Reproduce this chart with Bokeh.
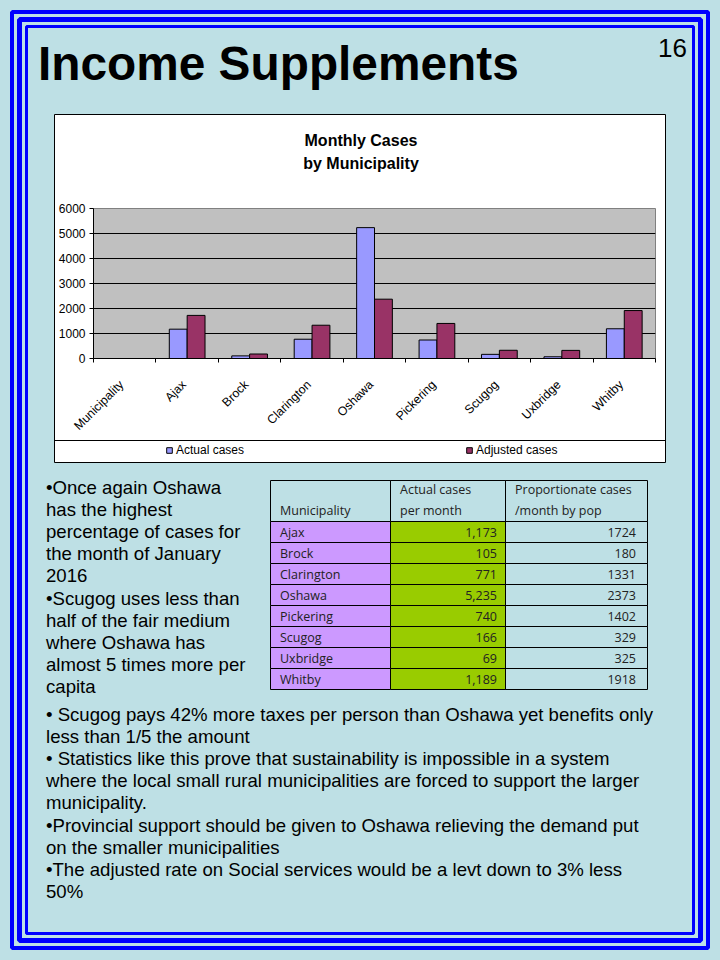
import math
from bokeh.plotting import figure
from bokeh.layouts import row, column
from bokeh.models import Range1d, FixedTicker, Legend, LegendItem
from bokeh.core.properties import value
from bokeh.embed import file_html
from bokeh.resources import INLINE

# ---------------- data ----------------
chart_categories = ["Municipality", "Ajax", "Brock", "Clarington", "Oshawa",
                    "Pickering", "Scugog", "Uxbridge", "Whitby"]
municipalities = ["Ajax", "Brock", "Clarington", "Oshawa", "Pickering",
                  "Scugog", "Uxbridge", "Whitby"]
actual_cases = [1173, 105, 771, 5235, 740, 166, 69, 1189]
adjusted_cases = [1724, 180, 1331, 2373, 1402, 329, 325, 1918]
y_ticks = [0, 1000, 2000, 3000, 4000, 5000, 6000]
series_names = ["Actual cases", "Adjusted cases"]

page_title = "Income Supplements"
page_number = "16"
chart_title = ["Monthly Cases", "by Municipality"]
header_lines = [["", "Municipality"], ["Actual cases", " per month"],
                ["Proportionate cases", "/month by pop"]]
left_text = [
    "\u2022Once again Oshawa",
    "has the highest",
    "percentage of cases for",
    "the month of January",
    "2016",
    "\u2022Scugog uses less than",
    "half of the fair medium",
    "where Oshawa has",
    "almost 5 times more per",
    "capita",
]
bottom_text = [
    "\u2022 Scugog pays 42% more taxes per person than Oshawa yet benefits only",
    "less than 1/5 the amount",
    "\u2022 Statistics like this prove that sustainability is impossible in a system",
    "where the local small rural municipalities are forced to support the larger",
    "municipality.",
    "\u2022Provincial support should be given to Oshawa relieving the demand put",
    "on the smaller municipalities",
    "\u2022The adjusted rate on Social services would be a levt down to 3% less",
    "50%",
]

# ---------------- style ----------------
BG = "#BEE0E5"
BLUE = "#0000FF"
C_ACT = "#9999FF"
C_ADJ = "#993366"
C_LILAC = "#CC99FF"
C_GREEN = "#99CC00"
FONT = "Liberation Sans"
TFONT = "Open Sans"


def page_fig(x0, x1, y0, y1, fill=BG):
    f = figure(width=x1 - x0, height=y1 - y0,
               x_range=Range1d(x0, x1), y_range=Range1d(y1, y0),
               x_axis_type=None, y_axis_type=None, toolbar_location=None,
               output_backend="svg", min_border=0, title=None, hidpi=False)
    f.background_fill_color = fill
    f.border_fill_color = fill
    f.outline_line_color = None
    return f


def draw_borders(f, box_fill=None):
    for inset, w in [(12, 4), (19.5, 5), (26.5, 3)]:
        f.quad(left=[inset], right=[720 - inset], top=[inset], bottom=[960 - inset],
               fill_color=None, line_color=BLUE, line_width=w)
    f.quad(left=[54.5], right=[665.5], top=[114.5], bottom=[462.5],
           fill_color=box_fill, line_color="black", line_width=1)


# ---------------- top (title + chart title) ----------------
top = page_fig(0, 720, 0, 200)
draw_borders(top, box_fill="white")
top.text(x=[38], y=[63], text=[page_title], text_font=value(FONT),
         text_font_size="47.8px", text_font_style="bold", text_color="black",
         text_baseline="middle", text_align="left")
top.text(x=[687], y=[48], text=[page_number], text_font=value(FONT),
         text_font_size="26px", text_color="black",
         text_baseline="middle", text_align="right")
top.text(x=[361, 361], y=[140.4, 163.4], text=chart_title, text_font=value(FONT),
         text_font_size="16px", text_font_style="bold", text_color="black",
         text_baseline="middle", text_align="center")

# ---------------- side strips ----------------
left_strip = page_fig(0, 55, 200, 440)
draw_borders(left_strip)
right_strip = page_fig(665, 720, 200, 440)
draw_borders(right_strip)

# ---------------- chart ----------------
n = len(chart_categories)
chart = figure(width=610, height=240, x_range=Range1d(0, n), y_range=Range1d(0, y_ticks[-1]),
               toolbar_location=None, output_backend="svg", title=None,
               min_border_left=35, min_border_right=10, min_border_top=8, min_border_bottom=75)
chart.background_fill_color = "#C0C0C0"
chart.border_fill_color = "white"
chart.outline_line_color = "#808080"
chart.xgrid.grid_line_color = None
chart.ygrid.grid_line_color = "black"
chart.ygrid.grid_line_width = 1

bw = 0.286
x_act = [chart_categories.index(m) + 0.5 - bw / 2 for m in municipalities]
x_adj = [chart_categories.index(m) + 0.5 + bw / 2 for m in municipalities]
chart.vbar(x=x_act, top=actual_cases, width=bw, fill_color=C_ACT, line_color="black", line_width=1)
chart.vbar(x=x_adj, top=adjusted_cases, width=bw, fill_color=C_ADJ, line_color="black", line_width=1)

label_pos = [round(i + 0.45, 3) for i in range(n)]
xa = chart.xaxis[0]
xa.ticker = FixedTicker(ticks=label_pos, minor_ticks=list(range(n + 1)))
xa.major_label_overrides = {p: c for p, c in zip(label_pos, chart_categories)}
xa.major_tick_line_color = None
xa.major_tick_out = 0
xa.major_tick_in = 0
xa.minor_tick_line_color = "black"
xa.minor_tick_out = 4
xa.minor_tick_in = 0
xa.major_label_orientation = math.pi / 4
xa.major_label_standoff = 20
xa.major_label_text_font = FONT
xa.major_label_text_font_size = "12.3px"
xa.major_label_text_color = "black"
xa.axis_line_color = "black"

ya = chart.yaxis[0]
ya.ticker = FixedTicker(ticks=y_ticks)
ya.major_tick_out = 4
ya.major_tick_in = 0
ya.major_tick_line_color = "black"
ya.minor_tick_line_color = None
ya.major_label_standoff = 4
ya.major_label_text_font = FONT
ya.major_label_text_font_size = "12px"
ya.major_label_text_color = "black"
ya.axis_line_color = "black"

# ---------------- bottom (legend + table + text) ----------------
bot = page_fig(0, 720, 440, 960)
draw_borders(bot, box_fill="white")
bot.segment(x0=[55], y0=[440.5], x1=[665], y1=[440.5], line_color="black", line_width=1)

# hidden copies of the series, used only for the legend swatches
r_act = bot.vbar(x=x_act, top=actual_cases, width=bw, fill_color=C_ACT, line_color="black", visible=False)
r_adj = bot.vbar(x=x_adj, top=adjusted_cases, width=bw, fill_color=C_ADJ, line_color="black", visible=False)
for rend, name, xloc in [(r_act, series_names[0], 166), (r_adj, series_names[1], 466)]:
    lg = Legend(items=[LegendItem(label=name, renderers=[rend])], location=(xloc, 503),
                orientation="horizontal", padding=0, margin=0, border_line_color=None,
                background_fill_alpha=0, glyph_width=7, glyph_height=7, label_standoff=3,
                label_text_font=FONT, label_text_font_size="12px", label_height=12,
                label_text_color="black", click_policy="none")
    bot.add_layout(lg)

col_edges = [270.5, 390.5, 505.5, 647.5]
head_top, head_bot, row_h = 480.5, 521.5, 21
nrows = len(municipalities)
bot.quad(left=col_edges[:-1], right=col_edges[1:], top=[head_top] * 3, bottom=[head_bot] * 3,
         fill_color=None, line_color="black", line_width=1)
fills = [C_LILAC, C_GREEN, None]
for ci in range(3):
    tops = [head_bot + r * row_h for r in range(nrows)]
    bots = [t + row_h for t in tops]
    bot.quad(left=[col_edges[ci]] * nrows, right=[col_edges[ci + 1]] * nrows, top=tops, bottom=bots,
             fill_color=fills[ci], line_color="black", line_width=1)

hx = [280, 400, 515]
for ci, (l1, l2) in enumerate(header_lines):
    bot.text(x=[hx[ci], hx[ci]], y=[489, 510], text=[l1, l2], text_font=value(TFONT),
             text_font_size="12.5px", text_color="#222222", text_baseline="middle",
             text_align="left")

row_mid = [head_bot + r * row_h + 10.7 for r in range(nrows)]
bot.text(x=[280] * nrows, y=row_mid, text=municipalities, text_font=value(TFONT),
         text_font_size="12.5px", text_color="#222222", text_baseline="middle")
bot.text(x=[497] * nrows, y=row_mid, text=[f"{v:,}" for v in actual_cases], text_font=value(TFONT),
         text_font_size="12.5px", text_color="#222222", text_baseline="middle", text_align="right")
bot.text(x=[636] * nrows, y=row_mid, text=[str(v) for v in adjusted_cases], text_font=value(TFONT),
         text_font_size="12.5px", text_color="#222222", text_baseline="middle", text_align="right")

bot.text(x=[46] * len(left_text), y=[487 + 22.2 * i for i in range(len(left_text))], text=left_text,
         text_font=value(FONT), text_font_size="18.6px", text_color="black",
         text_baseline="middle", text_align="left")
bot.text(x=[46] * len(bottom_text), y=[714 + 22.2 * i for i in range(len(bottom_text))], text=bottom_text,
         text_font=value(FONT), text_font_size="18.6px", text_color="black",
         text_baseline="middle", text_align="left")

# ---------------- layout ----------------
middle = row(left_strip, column(chart, spacing=0, styles={"background-color": "white"}),
             right_strip, spacing=0)
page = column(top, middle, bot, spacing=0)

html = file_html(page, INLINE, title="Income Supplements")
html = html.replace("</head>", "<style>html, body { background: " + BG + "; }</style></head>", 1)
open("out.html", "w").write(html)
